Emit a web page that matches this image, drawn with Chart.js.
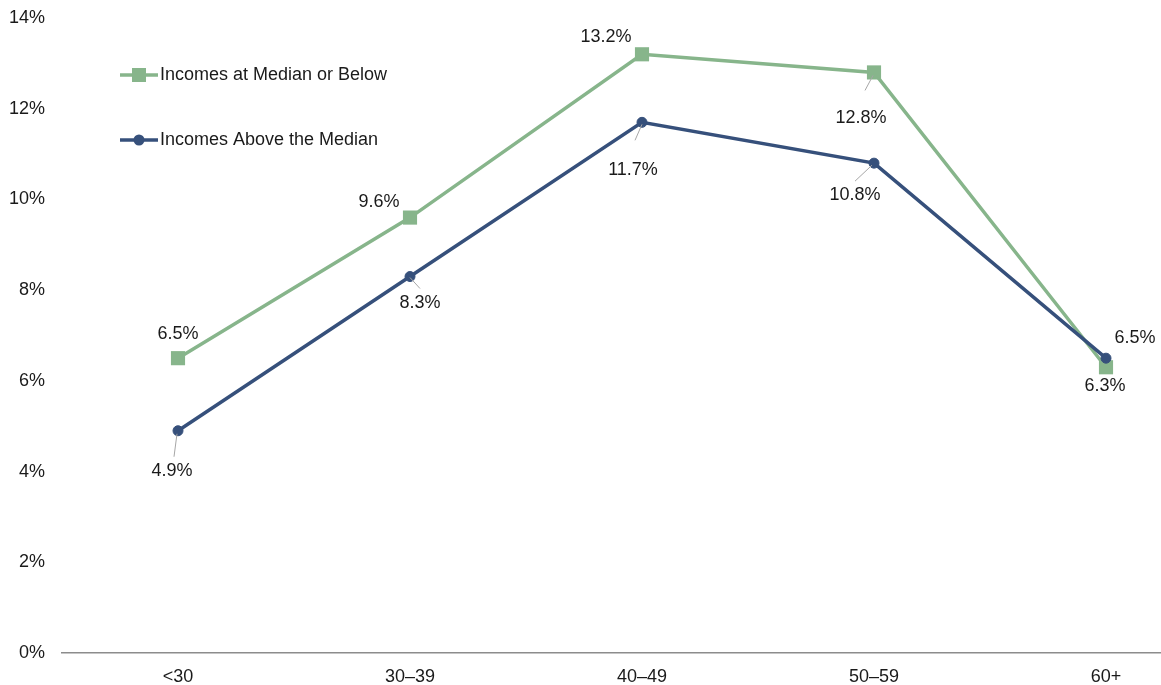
<!DOCTYPE html>
<html>
<head>
<meta charset="utf-8">
<script src="https://cdn.jsdelivr.net/npm/chart.js@4/dist/chart.umd.min.js"></script>
<style>
  html, body { margin: 0; padding: 0; background: #fff; overflow: hidden; }
  #wrap { position: relative; width: 1240px; height: 685px; }
</style>
</head>
<body>
<div id="wrap"><canvas id="c" width="1240" height="685"></canvas></div>
<script>
// Age groups and share of each income group (percent)
const ageGroups = ['<30', '30\u201339', '40\u201349', '50\u201359', '60+'];
const atOrBelowMedian = [6.5, 9.6, 13.2, 12.8, 6.3];
const aboveMedian = [4.9, 8.3, 11.7, 10.8, 6.5];
const yTicks = [0, 2, 4, 6, 8, 10, 12, 14];

const seriesNames = ['Incomes at Median or Below', 'Incomes Above the Median'];
const GREEN = '#87b58b';
const BLUE = '#36507b';
const FONT = '"Liberation Sans", Arial, sans-serif';
const FONT_SIZE = 18;

// Label placement per point: [dx, dy] of label centre from the point,
// and optional leader line [x1, y1, x2, y2] relative to the point.
const greenLabelPlacement = [
  { dx: 0, dy: -24 },
  { dx: -31, dy: -16 },
  { dx: -36, dy: -17 },
  { dx: -13, dy: 46, leader: [-1, 3, -9, 18] },
  { dx: -1, dy: 19 }
];
const blueLabelPlacement = [
  { dx: -6, dy: 40, leader: [-1, 3, -4, 26] },
  { dx: 10, dy: 26, leader: [0, 1, 10, 12] },
  { dx: -9, dy: 48, leader: [0, 2, -7, 18] },
  { dx: -19, dy: 32, leader: [-2, 2, -19, 18] },
  { dx: 29, dy: -20 }
];

const valueLabels = {
  id: 'valueLabels',
  afterDatasetsDraw(chart) {
    const ctx = chart.ctx;
    const sets = [
      { idx: 0, place: greenLabelPlacement },
      { idx: 1, place: blueLabelPlacement }
    ];
    ctx.save();
    sets.forEach(s => {
      const meta = chart.getDatasetMeta(s.idx);
      const values = chart.data.datasets[s.idx].data;
      meta.data.forEach((pt, i) => {
        const p = s.place[i];
        if (p.leader) {
          ctx.strokeStyle = '#a6a6a6';
          ctx.lineWidth = 1;
          ctx.beginPath();
          ctx.moveTo(pt.x + p.leader[0], pt.y + p.leader[1]);
          ctx.lineTo(pt.x + p.leader[2], pt.y + p.leader[3]);
          ctx.stroke();
        }
        ctx.fillStyle = '#1a1a1a';
        ctx.font = FONT_SIZE + 'px ' + FONT;
        ctx.textAlign = 'center';
        ctx.textBaseline = 'middle';
        ctx.fillText(values[i].toFixed(1) + '%', pt.x + p.dx, pt.y + p.dy);
      });
    });
    ctx.restore();
  }
};

const insetLegend = {
  id: 'insetLegend',
  afterDraw(chart) {
    const ctx = chart.ctx;
    const items = [
      { text: seriesNames[0], color: GREEN, style: 'rect', y: 75 },
      { text: seriesNames[1], color: BLUE, style: 'circle', y: 140 }
    ];
    ctx.save();
    items.forEach(it => {
      ctx.strokeStyle = it.color;
      ctx.lineWidth = 3.5;
      ctx.beginPath();
      ctx.moveTo(120, it.y);
      ctx.lineTo(158, it.y);
      ctx.stroke();
      ctx.fillStyle = it.color;
      if (it.style === 'rect') {
        ctx.fillRect(132, it.y - 7, 14, 14);
      } else {
        ctx.beginPath();
        ctx.arc(139, it.y, 5.5, 0, Math.PI * 2);
        ctx.fill();
      }
      ctx.fillStyle = '#1a1a1a';
      ctx.font = FONT_SIZE + 'px ' + FONT;
      ctx.textAlign = 'left';
      ctx.textBaseline = 'middle';
      ctx.fillText(it.text, 160, it.y);
    });
    ctx.restore();
  }
};

new Chart(document.getElementById('c'), {
  type: 'line',
  data: {
    labels: ageGroups,
    datasets: [
      {
        label: seriesNames[0],
        data: atOrBelowMedian,
        borderColor: GREEN,
        backgroundColor: GREEN,
        borderWidth: 3.5,
        pointStyle: 'rect',
        pointRadius: 10,
        pointBorderWidth: 0,
        tension: 0,
        order: 2
      },
      {
        label: seriesNames[1],
        data: aboveMedian,
        borderColor: BLUE,
        backgroundColor: BLUE,
        borderWidth: 3.5,
        pointStyle: 'circle',
        pointRadius: 5,
        pointBorderWidth: 1,
        tension: 0,
        order: 1
      }
    ]
  },
  options: {
    responsive: false,
    animation: false,
    layout: { padding: { top: 18, right: 18, bottom: 0, left: 0 } },
    plugins: {
      legend: { display: false },
      tooltip: { enabled: false }
    },
    scales: {
      x: {
        offset: true,
        grid: { display: false, drawTicks: false },
        border: { display: true, color: '#8c8c8c', width: 1.5 },
        ticks: {
          color: '#1a1a1a',
          font: { family: FONT, size: FONT_SIZE },
          padding: 13,
          maxRotation: 0
        },
        afterFit(scale) { scale.height = 32; }
      },
      y: {
        min: 0,
        max: 14,
        // invisible tick marks keep the labels clear of the plot edge
        grid: {
          display: true,
          drawOnChartArea: false,
          drawTicks: true,
          tickLength: 17,
          color: 'rgba(0,0,0,0)'
        },
        border: { display: false },
        afterBuildTicks(scale) { scale.ticks = yTicks.map(v => ({ value: v })); },
        ticks: {
          color: '#1a1a1a',
          font: { family: FONT, size: FONT_SIZE },
          padding: 0,
          callback: v => v + '%'
        },
        afterFit(scale) { scale.width = 62; }
      }
    }
  },
  plugins: [valueLabels, insetLegend]
});
</script>
</body>
</html>
